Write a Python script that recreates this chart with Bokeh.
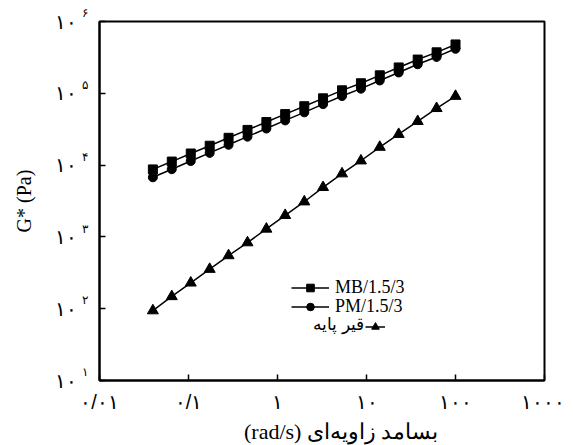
from bokeh.plotting import figure
from bokeh.models import (FixedTicker, Legend, LegendItem, Range1d, Label,
                          CustomJSTickFormatter, LogAxis)
from bokeh.embed import file_html
from bokeh.resources import INLINE

# ---- data ----
freq = [0.0398, 0.0649, 0.106, 0.173, 0.282, 0.460, 0.750, 1.22, 2.00,
        3.25, 5.31, 8.66, 14.1, 23.0, 37.6, 61.3, 100.0]
g_mb = [8710, 11200, 14500, 18600, 24000, 30900, 39800, 51300, 66100,
        85100, 110000, 138000, 178000, 229000, 295000, 372000, 479000]
g_pm = [6760, 8770, 11400, 14800, 19200, 24900, 32300, 41900, 54300,
        70600, 91600, 116000, 151000, 195000, 254000, 321000, 417000]
g_base = [94, 148, 229, 355, 550, 832, 1290, 2000, 3090, 4900, 7590,
          11500, 17800, 26900, 40700, 61700, 91200]

series_names = ["MB/1.5/3", "PM/1.5/3", "قیر پایه"]
x_ticks = [0.01, 0.1, 1, 10, 100, 1000]
x_tick_labels = ["۰/۰۱", "۰/۱", "۱", "۱۰", "۱۰۰", "۱۰۰۰"]
y_ticks = [10, 100, 1000, 10000, 100000, 1000000]
y_tick_base = "۱۰"
y_tick_exps = ["۱", "۲", "۳", "۴", "۵", "۶"]
x_title = "\u00a0" * 7 + "(rad/s) بسامد زاویه\u200cای"
y_title = "G* (Pa)"

SERIF = "Liberation Serif"

p = figure(x_axis_type="log", y_axis_type="log",
           x_range=Range1d(0.01, 1000), y_range=Range1d(10, 1e6),
           frame_width=445, frame_height=359,
           min_border_left=99, min_border_top=21, min_border_right=20,
           min_border_bottom=60,
           output_backend="svg", toolbar_location=None)
p.grid.visible = False
p.outline_line_color = "black"
p.outline_line_width = 2
p.outline_line_alpha = 1

xa = p.xaxis[0]
ya = p.yaxis[0]          # inner left axis: carries the superscript exponents
xa.ticker = FixedTicker(ticks=x_ticks, minor_ticks=[])
ya.ticker = FixedTicker(ticks=y_ticks, minor_ticks=[])
xa.formatter = CustomJSTickFormatter(args=dict(labels=x_tick_labels),
                                     code="return labels[index];")
ya.formatter = CustomJSTickFormatter(args=dict(labels=y_tick_exps),
                                     code="return labels[index] + '\\n ';")

# outer left axis: carries the base "۱۰" and the axis title
yb = LogAxis(ticker=FixedTicker(ticks=y_ticks, minor_ticks=[]),
             formatter=CustomJSTickFormatter(args=dict(base=y_tick_base),
                                             code="return base;"))
p.add_layout(yb, "left")

for ax in (xa, ya, yb):
    ax.axis_line_width = 2
    ax.axis_line_color = "black"
    ax.major_tick_in = 6
    ax.major_tick_out = 0
    ax.major_tick_line_width = 1.5
    ax.minor_tick_in = 0
    ax.minor_tick_out = 0
    ax.major_label_text_font_size = "20px"
    ax.major_label_text_color = "black"
    ax.axis_label_text_font = SERIF
    ax.axis_label_text_font_style = "normal"
    ax.axis_label_text_font_size = "20px"
    ax.axis_label_text_color = "black"

yb.axis_line_alpha = 0
yb.major_tick_in = 0
ya.major_label_text_font_size = "12px"
ya.major_label_standoff = 12
yb.major_label_standoff = 2
yb.axis_label = y_title
yb.axis_label_standoff = 17

xa.axis_label = x_title
xa.axis_label_text_font_size = "22px"
xa.major_label_standoff = 10
xa.axis_label_standoff = 3

# series
r_mb_l = p.line(freq, g_mb, line_color="black", line_width=1.5)
r_mb_m = p.scatter(freq, g_mb, marker="square", size=9, color="black")
r_pm_l = p.line(freq, g_pm, line_color="black", line_width=1.5)
r_pm_m = p.scatter(freq, g_pm, marker="circle", size=9, color="black")
r_b_l = p.line(freq, g_base, line_color="black", line_width=1.5)
r_b_m = p.scatter(freq, g_base, marker="triangle", size=11, color="black")

leg_common = dict(orientation="vertical", spacing=0, padding=0, margin=0,
                  label_standoff=6, border_line_alpha=0,
                  background_fill_alpha=0, label_text_font=SERIF,
                  label_text_font_size="18px", label_text_color="black",
                  glyph_height=19, label_height=19)
p.add_layout(Legend(items=[LegendItem(label=series_names[0],
                                      renderers=[r_mb_l, r_mb_m])],
                    location=(192, 82), glyph_width=38, **leg_common), "center")
p.add_layout(Legend(items=[LegendItem(label=series_names[1],
                                      renderers=[r_pm_l, r_pm_m])],
                    location=(192, 63), glyph_width=38, **leg_common), "center")
p.add_layout(Legend(items=[LegendItem(label=" ", renderers=[r_b_l, r_b_m])],
                    location=(266, 44), glyph_width=20, **leg_common), "center")
p.add_layout(Label(x=264, y=56, x_units="screen", y_units="screen",
                   text=series_names[2], text_align="right",
                   text_baseline="middle", text_font_size="17px",
                   text_color="black"))

open("out.html", "w").write(file_html(p, INLINE))
